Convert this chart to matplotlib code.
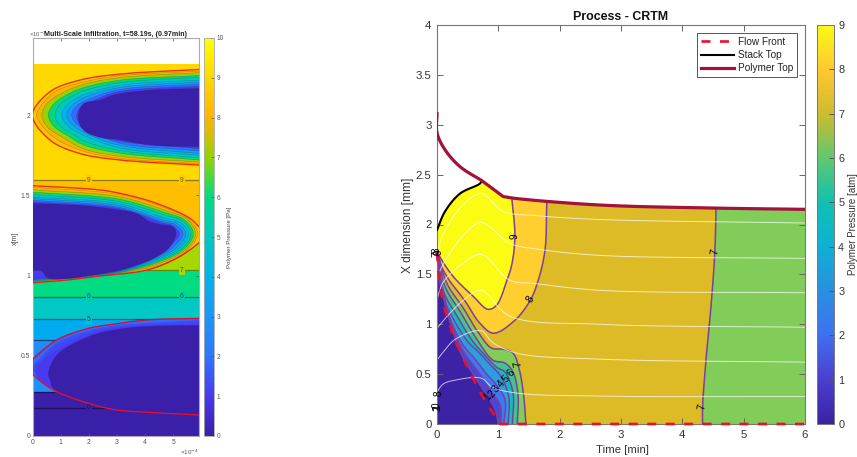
import numpy as np
import matplotlib
matplotlib.use("Agg")
import matplotlib.pyplot as plt
from matplotlib.colors import LinearSegmentedColormap, Normalize
from matplotlib.cm import ScalarMappable

plt.rcParams['font.family'] = ['Liberation Sans', 'DejaVu Sans']

W, H = 857, 457

# ---------- right panel data (t [min], x [mm]) ----------
stack_top = [(0, 1.945), (.13, 2.13), (.375, 2.31), (.7, 2.41), (.73, 2.44)]
polymer_top = [(0, 3.11), (0, 2.92), (.13, 2.75), (.375, 2.58), (.73, 2.44), (1.08, 2.28),
               (1.3, 2.26), (2.66, 2.195), (4.5, 2.165), (6, 2.152)]
flow_front = [(0, 1.72), (.03, 1.5), (.1, 1.21), (.21, .99), (.26, .89), (.48, .59), (.75, .27), (1.03, 0), (6, 0)]

c9 = [(1.22, 2.265), (1.27, 1.88), (1.22, 1.6), (1.14, 1.44), (.97, 1.19), (.83, 1.15), (.59, 1.28), (.29, 1.46), (.1, 1.62), (.01, 1.72)]
c8 = [(1.79, 2.215), (1.76, 1.74), (1.65, 1.44), (1.52, 1.24), (1.27, 1.04), (.92, .91), (.7, 1.01), (.46, 1.23), (.18, 1.46), (.06, 1.6), (.01, 1.72)]
c7 = [(.01, 1.72), (.16, 1.41), (.43, 1.16), (.67, .92), (.89, .76), (1.08, .75), (1.24, .71), (1.34, .55), (1.41, .3), (1.45, 0)]
c6 = [(.01, 1.72), (.13, 1.38), (.375, 1.13), (.65, .85), (.91, .64), (1.11, .61), (1.24, .52), (1.32, .3), (1.31, 0)]
c5 = [(.01, 1.72), (.1, 1.34), (.32, 1.09), (.57, .84), (.75, .71), (.97, .57), (1.11, .52), (1.24, .31), (1.23, 0)]
c4 = [(.01, 1.72), (.07, 1.34), (.26, 1.06), (.51, .82), (.68, .72), (.86, .6), (1.05, .47), (1.17, .27), (1.16, 0)]
c3 = [(.01, 1.72), (.06, 1.4), (.23, 1.03), (.44, .78), (.62, .65), (.81, .5), (.97, .39), (1.11, .24), (1.09, 0)]
c2 = [(.01, 1.72), (.045, 1.5), (.15, 1.2), (.22, 1.02), (.42, .74), (.58, .6), (.7, .5), (.89, .32), (1.03, .19), (1.04, 0)]
c1 = [(.01, 1.72), (.03, 1.55), (.13, 1.2), (.21, 1.03), (.38, .72), (.65, .44), (.81, .29), (.95, .14), (1.0, 0)]
c7_right = [(4.55, 2.165), (4.53, 1.73), (4.47, 1.2), (4.38, .6), (4.33, .17), (4.33, 0)]

white_1 = [(0, 1.72), (.1, 1.9), (.4, 2.18), (.72, 2.31), (1.08, 2.13), (1.6, 2.09), (2.66, 2.05), (6, 2.015)]
white_2 = [(.02, 1.5), (.1, 1.6), (.4, 1.87), (.72, 2.02), (1.19, 1.81), (1.68, 1.75), (2.66, 1.69), (6, 1.66)]
white_3 = [(0, 1.25), (.1, 1.42), (.4, 1.6), (.72, 1.70), (1.19, 1.44), (1.57, 1.41), (2.66, 1.34), (6, 1.316)]
white_4 = [(0, .96), (.21, 1.11), (.45, 1.25), (.72, 1.34), (1.19, 1.08), (2.66, 1.0), (6, .97)]
white_5 = [(0, .64), (.1, .72), (.3, .85), (.72, .935), (.9, .82), (1.3, .71), (2.66, .65), (6, .62)]
white_6 = [(0, .32), (.1, .4), (.3, .44), (.72, .46), (.9, .37), (1.3, .31), (2.66, .28), (6, .275)]

label_text = ['9', '8', '7', '7', '7', '6', '5', '4', '3', '2', '1', '8', '9', '7', '8', '0', '1', '2']
label_t = [1.27, 1.52, 1.32, 4.53, 4.32, 1.2, 1.13, 1.05, .97, .89, .83, .0, .02, .0, .02, .0, .01, .0]
label_x = [1.88, 1.25, .6, 1.73, .17, .51, .45, .4, .35, .3, .27, 1.74, 1.72, 1.7, .31, .19, .17, .16]
label_rot = [90, 60, 100, 80, 80, 50, 50, 50, 50, 50, 50, 90, 90, 90, 90, 90, 90, 90]

# ---------- left panel data (x [1e-4 m], y [1e-3 m]) ----------
band_edges = [.276, .6, .727, .868, 1.034, 1.26, 1.595, 2.318]
band_colors = ['#1E8FFA', '#00AAEE', '#00C8C4', '#00DC82', '#A6D800', '#FFBE00', '#FFD800']
line_y = [.176, .276, .6, .727, .868, 1.034, 1.595]
line_x0 = [0, 0, 0, 0, 0, 4.06, 0]
line_x1 = [2.6, .75, .9, 5.92, 5.92, 5.92, 5.92]
line_col = ['#1A1060', '#1A1060', '#104080', '#0A5F70', '#0A6A50', '#5F8A10', '#8A7A10']

tow1_red = [(5.92, 2.284), (3.11, 2.255), (1.69, 2.218), (.62, 2.145), (0, 2.0), (.62, 1.844), (1.69, 1.76), (3.11, 1.72), (5.92, 1.688)]
tow1_l8 = [(5.92, 2.274), (3.1, 2.245), (1.8, 2.205), (.85, 2.15), (.35, 2.07), (.15, 2.0), (.35, 1.93), (.85, 1.85), (1.8, 1.775), (3.1, 1.73), (5.92, 1.696)]
tow1_l7 = [(5.92, 2.264), (3.1, 2.233), (1.8, 2.19), (1.03, 2.135), (.53, 2.075), (.33, 2.0), (.53, 1.925), (1.03, 1.865), (1.8, 1.79), (3.1, 1.743), (5.92, 1.707)]
tow1_l6 = [(5.92, 2.247), (3.1, 2.217), (1.8, 2.17), (1.26, 2.13), (.76, 2.07), (.56, 2.0), (.76, 1.93), (1.26, 1.87), (1.8, 1.815), (3.1, 1.762), (5.92, 1.72)]
tow1_l5 = [(5.92, 2.235), (3.1, 2.201), (1.8, 2.15), (1.5, 2.125), (1.0, 2.07), (.8, 2.0), (1.0, 1.93), (1.5, 1.875), (1.8, 1.84), (3.1, 1.779), (5.92, 1.734)]
tow1_l4 = [(5.92, 2.218), (3.1, 2.185), (1.74, 2.12), (1.24, 2.065), (1.04, 2.0), (1.24, 1.935), (1.74, 1.88), (3.1, 1.795), (5.92, 1.749)]
tow1_l3 = [(5.92, 2.205), (3.1, 2.171), (1.92, 2.115), (1.42, 2.06), (1.22, 2.0), (1.42, 1.94), (1.92, 1.885), (3.1, 1.811), (5.92, 1.761)]
tow1_l2 = [(5.92, 2.193), (3.1, 2.159), (2.09, 2.105), (1.59, 2.06), (1.39, 2.0), (1.59, 1.94), (2.09, 1.895), (3.1, 1.824), (5.92, 1.776)]
tow1_l1 = [(5.92, 2.18), (3.1, 2.147), (2.3, 2.1), (1.72, 2.05), (1.57, 1.995), (1.72, 1.93), (2.3, 1.875), (3.1, 1.837), (5.92, 1.79)]
tow1_core = [(5.92, 2.166), (4.18, 2.155), (2.88, 2.125), (2.4, 2.093), (1.81, 2.07), (1.63, 1.99), (1.81, 1.907), (2.4, 1.86), (3, 1.849), (4.18, 1.813), (5.92, 1.803)]

tow2_red = [(0, 1.56), (2.4, 1.533), (3.11, 1.512), (4.06, 1.47), (5.01, 1.408), (5.6, 1.356), (5.92, 1.304), (5.92, 1.204), (5.6, 1.16), (5.01, 1.097), (4.06, 1.034), (2.4, .997), (1.22, .972), (0, .955)]
tow2_l8 = [(0, 1.55), (3.1, 1.504), (4.66, 1.425), (5.57, 1.35), (5.87, 1.26), (5.57, 1.17), (4.66, 1.075), (3.1, 1.012), (0, .958)]
tow2_l7 = [(0, 1.535), (3.1, 1.49), (4.66, 1.41), (5.5, 1.35), (5.8, 1.26), (5.5, 1.17), (4.66, 1.085), (3.1, 1.015), (0, .96)]
tow2_l6 = [(0, 1.52), (3.1, 1.475), (4.66, 1.395), (5.42, 1.345), (5.72, 1.26), (5.42, 1.17), (4.66, 1.095), (3.1, 1.018), (0, .962)]
tow2_l5 = [(0, 1.505), (3.1, 1.46), (4.66, 1.378), (5.33, 1.34), (5.63, 1.26), (5.33, 1.17), (4.66, 1.105), (3.1, 1.02), (0, .965)]
tow2_l4 = [(0, 1.49), (3.1, 1.447), (4.66, 1.36), (5.25, 1.33), (5.55, 1.26), (5.25, 1.175), (4.66, 1.115), (3.1, 1.023), (0, .967)]
tow2_l3 = [(0, 1.48), (3.1, 1.435), (4.66, 1.345), (5.15, 1.325), (5.45, 1.26), (5.15, 1.18), (4.66, 1.125), (3.1, 1.026), (0, .97)]
tow2_l2 = [(0, 1.47), (3.1, 1.425), (4.66, 1.335), (5.05, 1.32), (5.35, 1.26), (5.05, 1.185), (4.66, 1.135), (3.1, 1.029), (0, .973)]
tow2_l1 = [(0, 1.46), (3.1, 1.416), (4.66, 1.325), (4.92, 1.315), (5.22, 1.26), (4.92, 1.19), (4.66, 1.142), (3.1, 1.031), (0, .975)]
tow2_core = [(0, 1.45), (1.99, 1.433), (3.11, 1.408), (3.7, 1.387), (4.18, 1.335), (4.66, 1.315), (5.01, 1.304), (5.1, 1.263), (4.89, 1.18), (4.3, 1.107), (3.7, 1.065), (3.11, 1.034), (2.4, 1.01), (1.22, .98), (.55, .985), (.3, 1.03), (0, 1.03)]

tow3_red = [(5.92, .733), (4.06, .723), (3, .70), (1.98, .67), (.86, .598), (0, .478), (0, .384), (.74, .287), (1.98, .204), (3, .162), (4.06, .148), (5.92, .131)]
tow3_l3 = [(5.92, .722), (3, .69), (1.98, .655), (.86, .58), (.2, .47), (.02, .43), (.2, .36), (.74, .29), (1.98, .205), (5.92, .132)]
tow3_l2 = [(5.92, .712), (3, .682), (1.98, .645), (.86, .56), (.3, .47), (.08, .42), (.2, .36), (.74, .292), (1.98, .205), (5.92, .132)]
tow3_l1 = [(5.92, .70), (3, .675), (1.98, .63), (.86, .535), (.35, .47), (.14, .42), (.2, .36), (.5, .31), (.74, .295), (1.98, .205), (5.92, .132)]
tow3_core = [(5.92, .69), (4.18, .685), (3, .665), (1.99, .62), (.86, .505), (.56, .39), (.62, .35), (.74, .295), (1.98, .204), (3, .162), (4.06, .148), (5.92, .131)]

level_fill = ['#FFC400', '#FFB200', '#9CD000', '#00D880', '#00C8C0', '#00B4E8', '#1E96F8', '#2F6CFF', '#4A3AEF', '#3A1FA8']

# ---------- colour maps ----------
left_ticks = list(range(11))
left_stops = ['#3A1FA8', '#4A3AEF', '#2D75FF', '#1E96F8', '#00B4E8', '#00C8C0', '#00DC80', '#94D200', '#FFB400', '#FFD800', '#FFFF00']
right_ticks = list(range(10))
right_stops = ['#3B22A2', '#4A3FD0', '#3F70F0', '#2A90E0', '#10B0D4', '#10C0B0', '#60C870', '#CCBB30', '#FFC830', '#FAFA14']
cm_left = LinearSegmentedColormap.from_list('left', left_stops, N=256)
cm_right = LinearSegmentedColormap.from_list('right', right_stops, N=256)


def ax_px(l, t, r, b, **kw):
    return fig.add_axes([l / W, 1 - b / H, (r - l) / W, (b - t) / H], **kw)


def smooth(pts, scale=(1, 1), n=10):
    """Centripetal Catmull-Rom curve through the read points."""
    s = np.array(scale, float)
    P = np.asarray(pts, float) * s
    P = np.vstack([2 * P[0] - P[1], P, 2 * P[-1] - P[-2]])
    out = []
    for i in range(1, len(P) - 2):
        p0, p1, p2, p3 = P[i - 1:i + 3]
        t0 = 0.0
        t1 = t0 + max(np.linalg.norm(p1 - p0), 1e-6) ** .5
        t2 = t1 + max(np.linalg.norm(p2 - p1), 1e-6) ** .5
        t3 = t2 + max(np.linalg.norm(p3 - p2), 1e-6) ** .5
        t = np.linspace(t1, t2, n, endpoint=False)[:, None]
        A1 = (t1 - t) / (t1 - t0) * p0 + (t - t0) / (t1 - t0) * p1
        A2 = (t2 - t) / (t2 - t1) * p1 + (t - t1) / (t2 - t1) * p2
        A3 = (t3 - t) / (t3 - t2) * p2 + (t - t2) / (t3 - t2) * p3
        B1 = (t2 - t) / (t2 - t0) * A1 + (t - t0) / (t2 - t0) * A2
        B2 = (t3 - t) / (t3 - t1) * A2 + (t - t1) / (t3 - t1) * A3
        out.append((t2 - t) / (t2 - t1) * B1 + (t - t1) / (t2 - t1) * B2)
    out.append(P[-2][None, :])
    return np.vstack(out) / s


fig = plt.figure(figsize=(W / 100, H / 100), dpi=100, facecolor='white')

# ================= LEFT PANEL =================
axL = ax_px(32.5, 38, 199, 436)
S_L = (28.1, 160.5)
axL.set_xlim(0, 5.92)
axL.set_ylim(0, 2.48)
axL.fill_between([0, 5.92], 0, band_edges[0], color=left_stops[0], lw=0, zorder=1)
for lo, hi, col in zip(band_edges[:-1], band_edges[1:], band_colors):
    axL.fill_between([0, 5.92], lo, hi, color=col, lw=0, zorder=1)
for y, x0, x1, col in zip(line_y, line_x0, line_x1, line_col):
    axL.plot([x0, x1], [y, y], color=col, lw=.9, zorder=2)
for y, x, s, col in [(.176, 2, '0', line_col[0]), (.727, 2, '5', '#104050'), (.868, 2, '6', '#0A5040'),
                     (.868, 5.3, '6', '#0A5040'), (1.034, 5.3, '7', '#405010'), (1.595, 2, '9', '#6A5A00'),
                     (1.595, 5.3, '9', '#6A5A00')]:
    bg = {'0': left_stops[0], '5': '#00C8C4', '6': '#00D0A0', '7': '#A6D800', '9': '#FFCA00'}[s]
    axL.text(x, y, s, fontsize=4.8, color=col, ha='center', va='center', zorder=3,
             bbox=dict(fc=bg, ec='none', pad=.8))

tow1 = [tow1_red, tow1_l8, tow1_l7, tow1_l6, tow1_l5, tow1_l4, tow1_l3, tow1_l2, tow1_l1, tow1_core]
tow2 = [tow2_red, tow2_l8, tow2_l7, tow2_l6, tow2_l5, tow2_l4, tow2_l3, tow2_l2, tow2_l1, tow2_core]
for tow, z in ((tow1, 4), (tow2, 4)):
    for i, (pts, col) in enumerate(zip(tow, level_fill)):
        c = smooth(pts, S_L)
        axL.fill(c[:, 0], c[:, 1], color=col, lw=0, zorder=z + i * .01)
        if 0 < i:
            axL.plot(c[:, 0], c[:, 1], color='#203040', alpha=.35, lw=.4, zorder=z + i * .01 + .001)
for pts, col in zip([tow3_red, tow3_l3, tow3_l2, tow3_l1, tow3_core],
                    ['#2F6CFF', '#3A50F5', '#3F47F2', '#4A3AEF', '#3A1FA8']):
    c = smooth(pts, S_L)
    axL.fill(c[:, 0], c[:, 1], color=col, lw=0, zorder=4.5)
for pts, col in ((tow1_red, '#F03010'), (tow2_red[:7], '#F03010'), (tow2_red[7:], '#E82020')):
    c = smooth(pts, S_L)
    axL.plot(c[:, 0], c[:, 1], color=col, lw=1.0, zorder=5)
c = smooth(tow3_red[:6], S_L)
axL.plot(c[:, 0], c[:, 1], color='#D81030', lw=1.0, zorder=5)
c = smooth(tow3_red[6:], S_L)
axL.plot(c[:, 0], c[:, 1], color='#E01030', lw=1.0, zorder=5)

axL.set_xticks([0, 1, 2, 3, 4, 5])
axL.set_yticks([0, .5, 1, 1.5, 2])
axL.set_xticklabels(['0', '1', '2', '3', '4', '5'])
axL.set_yticklabels(['0', '0.5', '1', '1.5', '2'])
axL.tick_params(direction='in', length=2, width=.5, colors='#555555', labelsize=4.9, pad=1.5, top=True, right=True)
axL.tick_params(axis='x', pad=2.5)
for s in axL.spines.values():
    s.set_color('#aaaaaa')
    s.set_linewidth(.8)
fig.text(15 / W, 1 - 238 / H, 'x[m]', rotation=90, fontsize=5, color='#444444', ha='center', va='center')
fig.text(189 / W, 1 - 452 / H, '×10$^{-4}$', fontsize=4.5, color='#555555', ha='center', va='center')
fig.text(38 / W, 1 - 34 / H, '×10$^{-3}$', fontsize=4.2, color='#555555', ha='center', va='center')
fig.text(116 / W, 1 - 34 / H, 'Multi-Scale Infiltration, t=58.19s, (0.97min)', fontsize=5.15, fontweight='bold',
         color='#222222', ha='center', va='center')

caxL = ax_px(204, 38, 214.5, 436)
cbL = fig.colorbar(ScalarMappable(Normalize(0, 10), cm_left), cax=caxL, ticks=left_ticks)
cbL.ax.tick_params(direction='in', length=2, width=.5, colors='#555555', labelsize=4.7, pad=1.5)
cbL.outline.set_edgecolor('#aaaaaa')
cbL.outline.set_linewidth(.6)
fig.text(230 / W, 1 - 237 / H, 'Polymer Pressure [Pa]', rotation=90, fontsize=4.4, color='#444444', ha='center', va='center')

# ================= RIGHT PANEL =================
ax = ax_px(437, 25, 805, 424)
S_R = (61.3, 99.75)
ax.set_xlim(0, 6)
ax.set_ylim(0, 4)
stack_c = smooth(stack_top, S_R)
poly_c = np.vstack([smooth(polymer_top[:5], S_R), smooth(polymer_top[4:6], S_R), smooth(polymer_top[5:], S_R)])
poly_right = poly_c[poly_c[:, 0] > .73]
outline = np.vstack([stack_c, poly_right])


def left_of(curve):
    top = outline[outline[:, 0] < curve[0, 0]]
    return np.vstack([top, curve])


ax.fill(*np.vstack([outline, [(6, 0), (0, 0)]]).T, color='#DDBB27', lw=0, zorder=1)
cr = smooth(c7_right, S_R)
top_r = outline[outline[:, 0] > cr[0, 0]]
ax.fill(*np.vstack([cr[::-1], cr[:1], top_r, [(6, 0)]]).T, color='#82CC5A', lw=0, zorder=1.1)
c8c = smooth(c8, S_R)
c9c = smooth(c9, S_R)
ax.fill(*left_of(c8c).T, color='#FFCF2F', lw=0, zorder=1.2)
ax.fill(*left_of(c9c).T, color='#FBFB14', lw=0, zorder=1.3)
lows = [c7, c6, c5, c4, c3, c2, c1]
low_cols = ['#82CC5A', '#40C490', '#10BCC0', '#2A9FE0', '#3C78F8', '#4848D8', '#3C22A4']
for i, (pts, col) in enumerate(zip(lows, low_cols)):
    c = smooth(pts, S_R)
    ax.fill(*np.vstack([c, [(0, 0)]]).T, color=col, lw=0, zorder=1.4 + i * .01)
LINE = '#7B3FA0'
for pts in [c9, c8, c7, c6, c5, c4, c3, c2, c1, c7_right]:
    c = smooth(pts, S_R)
    ax.plot(c[:, 0], c[:, 1], color=LINE, lw=1.1, zorder=2)
for pts in [white_1, white_2, white_3, white_4, white_5, white_6]:
    c = smooth(pts, S_R)
    ax.plot(c[:, 0], c[:, 1], color='white', alpha=.7, lw=.7, zorder=2.5)

ff = np.vstack([smooth(flow_front[:8], S_R), [flow_front[8]]])
front_line, = ax.plot(ff[:, 0], ff[:, 1], color='#E8102A', lw=1.9, dashes=(3.4, 3.6), zorder=6, clip_on=False, label='Flow Front')
stack_line, = ax.plot(stack_c[:, 0], stack_c[:, 1], color='black', lw=1.5, zorder=5, label='Stack Top')
poly_line, = ax.plot(poly_c[:, 0], poly_c[:, 1], color='#A3123A', lw=2.3, zorder=5.5, label='Polymer Top', solid_joinstyle='round')

for s, t, x, r in zip(label_text, label_t, label_x, label_rot):
    ax.text(t, x, s, fontsize=7.2, color='black', rotation=r, ha='center', va='center', zorder=7, clip_on=False)

ax.set_xticks(range(7))
ax.set_yticks(np.arange(0, 4.01, .5))
ax.set_xticklabels(['0', '1', '2', '3', '4', '5', '6'])
ax.set_yticklabels(['0', '0.5', '1', '1.5', '2', '2.5', '3', '3.5', '4'])
ax.tick_params(direction='in', length=4, width=.7, color='#666666', labelcolor='#333333', labelsize=8.2, pad=4, top=True, right=True)
for s in ax.spines.values():
    s.set_color('#777777')
    s.set_linewidth(.8)
fig.text(622 / W, 1 - 450 / H, 'Time [min]', fontsize=8.2, color='#333333', ha='center', va='center')
fig.text(408 / W, 1 - 225 / H, 'X dimension [mm]', rotation=90, fontsize=8.6, color='#333333', ha='center', va='center')
ax.set_title('Process - CRTM', fontsize=8.9, fontweight='bold', color='#111111', pad=3.5)
leg = ax.legend(handles=[front_line, stack_line, poly_line], loc='upper right',
                bbox_to_anchor=((797 - 437) / 368, 1 - 8 / 399), borderaxespad=0, fontsize=7.2,
                frameon=True, fancybox=False, edgecolor='#555555', framealpha=1, handlelength=3.3,
                handletextpad=.4, labelspacing=.32, borderpad=.38)
leg.get_frame().set_linewidth(.7)
leg.set_zorder(20)
for t in leg.get_texts():
    t.set_color('#222222')

cax = ax_px(817, 25, 834, 424)
cb = fig.colorbar(ScalarMappable(Normalize(0, 9), cm_right), cax=cax, ticks=right_ticks)
cb.ax.tick_params(direction='in', length=3.5, width=.7, color='#555555', labelcolor='#333333', labelsize=7.8, pad=3)
cb.outline.set_edgecolor('#777777')
cb.outline.set_linewidth(.7)
fig.text(853 / W, 1 - 224 / H, 'Polymer Pressure [atm]', rotation=90, fontsize=7, color='#333333', ha='center', va='center')

fig.savefig('out.png', dpi=100)
